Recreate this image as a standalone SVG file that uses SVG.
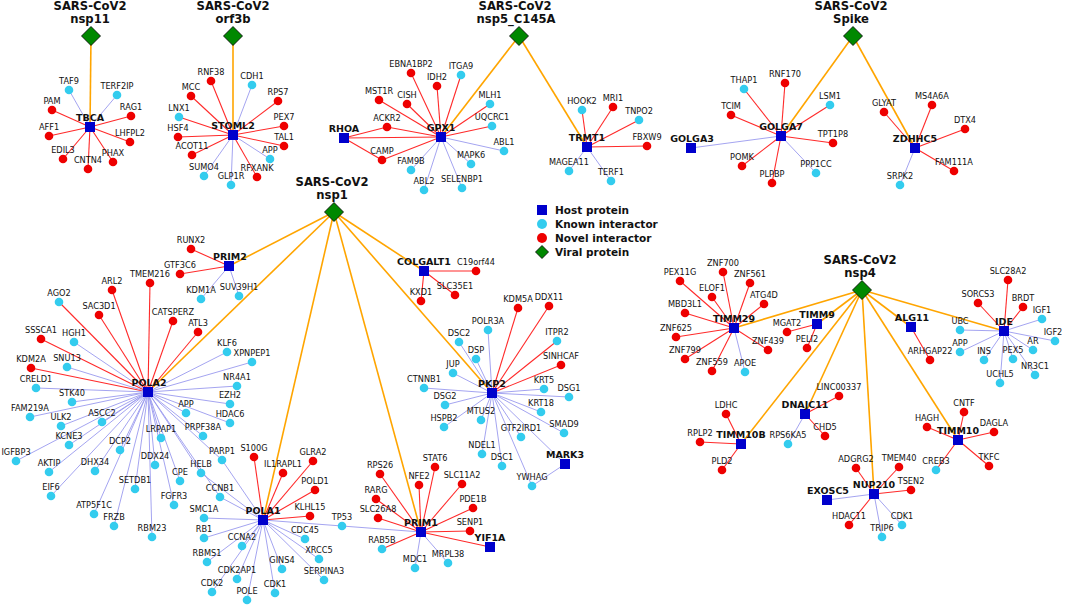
<svg xmlns="http://www.w3.org/2000/svg" width="1065" height="607" viewBox="0 0 1065 607">
<style>
.o{stroke:#ffa500;stroke-width:1.6}
.r{stroke:#ff2a2a;stroke-width:1.1}
.b{stroke:#9a9aee;stroke-width:0.9}
.h{fill:#0000cc}
.k{fill:#33ccee}
.n{fill:#ee0000}
.v{fill:#008800;stroke:#000;stroke-width:0.8}
text{font-family:"DejaVu Sans",Verdana,sans-serif;text-anchor:middle;fill:#111}
.l{font-size:8.2px}
.hl{font-size:9.5px;font-weight:bold}
.t{font-size:11.6px;font-weight:bold}
.lg{font-size:10.5px;font-weight:bold;text-anchor:start}
</style>
<rect width="1065" height="607" fill="#fff"/>
<g id="connectors">
<!-- TBCA -->
<line class="o" x1="91" y1="36" x2="90" y2="127"/>
<line class="b" x1="90" y1="127" x2="69" y2="90"/>
<line class="b" x1="90" y1="127" x2="117" y2="95"/>
<line class="r" x1="90" y1="127" x2="52" y2="110"/>
<line class="r" x1="90" y1="127" x2="131" y2="116"/>
<line class="r" x1="90" y1="127" x2="49" y2="136"/>
<line class="r" x1="90" y1="127" x2="130" y2="142"/>
<line class="r" x1="90" y1="127" x2="63" y2="159"/>
<line class="r" x1="90" y1="127" x2="88" y2="169"/>
<line class="r" x1="90" y1="127" x2="113" y2="162"/>
<!-- STOML2 -->
<line class="o" x1="233" y1="36" x2="233" y2="135"/>
<line class="r" x1="233" y1="135" x2="211" y2="81"/>
<line class="r" x1="233" y1="135" x2="191" y2="96"/>
<line class="r" x1="233" y1="135" x2="179" y2="117"/>
<line class="r" x1="233" y1="135" x2="178" y2="137"/>
<line class="r" x1="233" y1="135" x2="192" y2="155"/>
<line class="r" x1="233" y1="135" x2="257" y2="177"/>
<line class="r" x1="233" y1="135" x2="284" y2="146"/>
<line class="r" x1="233" y1="135" x2="284" y2="126"/>
<line class="r" x1="233" y1="135" x2="278" y2="101"/>
<line class="b" x1="233" y1="135" x2="252" y2="85"/>
<line class="b" x1="233" y1="135" x2="204" y2="176"/>
<line class="b" x1="233" y1="135" x2="231" y2="185"/>
<line class="b" x1="233" y1="135" x2="270" y2="159"/>
<!-- GPX1 -->
<line class="o" x1="519" y1="36" x2="441" y2="137"/>
<line class="r" x1="441" y1="137" x2="411" y2="73"/>
<line class="r" x1="441" y1="137" x2="437" y2="86"/>
<line class="r" x1="441" y1="137" x2="461" y2="75"/>
<line class="r" x1="441" y1="137" x2="379" y2="100"/>
<line class="r" x1="441" y1="137" x2="407" y2="104"/>
<line class="r" x1="441" y1="137" x2="490" y2="104"/>
<line class="r" x1="441" y1="137" x2="387" y2="127"/>
<line class="r" x1="441" y1="137" x2="492" y2="126"/>
<line class="r" x1="441" y1="137" x2="382" y2="160"/>
<line class="r" x1="441" y1="137" x2="344" y2="138"/>
<line class="b" x1="441" y1="137" x2="504" y2="151"/>
<line class="b" x1="441" y1="137" x2="411" y2="170"/>
<line class="b" x1="441" y1="137" x2="471" y2="164"/>
<line class="b" x1="441" y1="137" x2="424" y2="190"/>
<line class="b" x1="441" y1="137" x2="462" y2="188"/>
<line class="r" x1="344" y1="138" x2="387" y2="127"/>
<line class="r" x1="344" y1="138" x2="382" y2="160"/>
<!-- TRMT1 -->
<line class="o" x1="519" y1="36" x2="587" y2="147"/>
<line class="r" x1="587" y1="147" x2="582" y2="110"/>
<line class="r" x1="587" y1="147" x2="613" y2="107"/>
<line class="r" x1="587" y1="147" x2="639" y2="120"/>
<line class="r" x1="587" y1="147" x2="647" y2="146"/>
<line class="b" x1="587" y1="147" x2="569" y2="171"/>
<line class="b" x1="587" y1="147" x2="611" y2="181"/>
<!-- GOLGA7 -->
<line class="o" x1="853" y1="36" x2="781" y2="136"/>
<line class="r" x1="781" y1="136" x2="744" y2="89"/>
<line class="r" x1="781" y1="136" x2="785" y2="83"/>
<line class="r" x1="781" y1="136" x2="731" y2="115"/>
<line class="r" x1="781" y1="136" x2="742" y2="166"/>
<line class="r" x1="781" y1="136" x2="772" y2="183"/>
<line class="r" x1="781" y1="136" x2="830" y2="105"/>
<line class="r" x1="781" y1="136" x2="833" y2="143"/>
<line class="b" x1="781" y1="136" x2="816" y2="173"/>
<line class="b" x1="781" y1="136" x2="691" y2="148"/>
<!-- ZDHHC5 -->
<line class="o" x1="853" y1="36" x2="915" y2="148"/>
<line class="r" x1="915" y1="148" x2="884" y2="112"/>
<line class="r" x1="915" y1="148" x2="932" y2="105"/>
<line class="r" x1="915" y1="148" x2="965" y2="129"/>
<line class="r" x1="915" y1="148" x2="954" y2="171"/>
<line class="b" x1="915" y1="148" x2="900" y2="185"/>
<!-- PRIM2 -->
<line class="o" x1="334" y1="212" x2="229" y2="266"/>
<line class="r" x1="229" y1="266" x2="191" y2="249"/>
<line class="r" x1="229" y1="266" x2="180" y2="274"/>
<line class="b" x1="229" y1="266" x2="201" y2="299"/>
<line class="b" x1="229" y1="266" x2="239" y2="296"/>
<!-- POLA2 -->
<line class="o" x1="334" y1="212" x2="148" y2="392"/>
<line class="r" x1="148" y1="392" x2="59" y2="302"/>
<line class="r" x1="148" y1="392" x2="112" y2="290"/>
<line class="r" x1="148" y1="392" x2="150" y2="283"/>
<line class="r" x1="148" y1="392" x2="99" y2="315"/>
<line class="r" x1="148" y1="392" x2="173" y2="321"/>
<line class="r" x1="148" y1="392" x2="198" y2="332"/>
<line class="r" x1="148" y1="392" x2="41" y2="339"/>
<line class="r" x1="148" y1="392" x2="31" y2="368"/>
<line class="b" x1="148" y1="392" x2="74" y2="342"/>
<line class="b" x1="148" y1="392" x2="67" y2="367"/>
<line class="b" x1="148" y1="392" x2="36" y2="388"/>
<line class="b" x1="148" y1="392" x2="227" y2="352"/>
<line class="b" x1="148" y1="392" x2="252" y2="362"/>
<line class="b" x1="148" y1="392" x2="237" y2="386"/>
<line class="b" x1="148" y1="392" x2="72" y2="402"/>
<line class="b" x1="148" y1="392" x2="230" y2="404"/>
<line class="b" x1="148" y1="392" x2="186" y2="413"/>
<line class="b" x1="148" y1="392" x2="230" y2="423"/>
<line class="b" x1="148" y1="392" x2="30" y2="417"/>
<line class="b" x1="148" y1="392" x2="61" y2="426"/>
<line class="b" x1="148" y1="392" x2="102" y2="422"/>
<line class="b" x1="148" y1="392" x2="69" y2="445"/>
<line class="b" x1="148" y1="392" x2="161" y2="438"/>
<line class="b" x1="148" y1="392" x2="203" y2="436"/>
<line class="b" x1="148" y1="392" x2="16" y2="461"/>
<line class="b" x1="148" y1="392" x2="120" y2="450"/>
<line class="b" x1="148" y1="392" x2="222" y2="460"/>
<line class="b" x1="148" y1="392" x2="49" y2="472"/>
<line class="b" x1="148" y1="392" x2="95" y2="471"/>
<line class="b" x1="148" y1="392" x2="155" y2="465"/>
<line class="b" x1="148" y1="392" x2="201" y2="473"/>
<line class="b" x1="148" y1="392" x2="180" y2="481"/>
<line class="b" x1="148" y1="392" x2="51" y2="496"/>
<line class="b" x1="148" y1="392" x2="135" y2="489"/>
<line class="b" x1="148" y1="392" x2="220" y2="497"/>
<line class="b" x1="148" y1="392" x2="94" y2="514"/>
<line class="b" x1="148" y1="392" x2="174" y2="505"/>
<line class="b" x1="148" y1="392" x2="114" y2="526"/>
<line class="b" x1="148" y1="392" x2="152" y2="537"/>
<!-- POLA1 -->
<line class="o" x1="334" y1="212" x2="263" y2="520"/>
<line class="r" x1="263" y1="520" x2="254" y2="457"/>
<line class="r" x1="263" y1="520" x2="283" y2="473"/>
<line class="r" x1="263" y1="520" x2="313" y2="461"/>
<line class="r" x1="263" y1="520" x2="315" y2="490"/>
<line class="r" x1="263" y1="520" x2="310" y2="516"/>
<line class="b" x1="263" y1="520" x2="342" y2="526"/>
<line class="b" x1="263" y1="520" x2="305" y2="539"/>
<line class="b" x1="263" y1="520" x2="319" y2="559"/>
<line class="b" x1="263" y1="520" x2="282" y2="569"/>
<line class="b" x1="263" y1="520" x2="324" y2="580"/>
<line class="b" x1="263" y1="520" x2="275" y2="593"/>
<line class="b" x1="263" y1="520" x2="204" y2="518"/>
<line class="b" x1="263" y1="520" x2="204" y2="538"/>
<line class="b" x1="263" y1="520" x2="242" y2="546"/>
<line class="b" x1="263" y1="520" x2="207" y2="562"/>
<line class="b" x1="263" y1="520" x2="237" y2="579"/>
<line class="b" x1="263" y1="520" x2="212" y2="592"/>
<line class="b" x1="263" y1="520" x2="247" y2="600"/>
<line class="b" x1="263" y1="520" x2="220" y2="497"/>
<line class="b" x1="263" y1="520" x2="201" y2="473"/>
<line class="b" x1="263" y1="520" x2="222" y2="460"/>
<!-- PRIM1 -->
<line class="o" x1="334" y1="212" x2="421" y2="532"/>
<line class="r" x1="421" y1="532" x2="380" y2="474"/>
<line class="r" x1="421" y1="532" x2="435" y2="467"/>
<line class="r" x1="421" y1="532" x2="419" y2="485"/>
<line class="r" x1="421" y1="532" x2="462" y2="484"/>
<line class="r" x1="421" y1="532" x2="376" y2="499"/>
<line class="r" x1="421" y1="532" x2="473" y2="508"/>
<line class="r" x1="421" y1="532" x2="378" y2="518"/>
<line class="r" x1="421" y1="532" x2="470" y2="531"/>
<line class="r" x1="421" y1="532" x2="382" y2="549"/>
<line class="r" x1="421" y1="532" x2="490" y2="547"/>
<line class="b" x1="421" y1="532" x2="415" y2="568"/>
<line class="b" x1="421" y1="532" x2="448" y2="563"/>
<line class="b" x1="421" y1="532" x2="342" y2="526"/>
<!-- COLGALT1 -->
<line class="o" x1="334" y1="212" x2="424" y2="271"/>
<line class="r" x1="424" y1="271" x2="476" y2="271"/>
<line class="r" x1="424" y1="271" x2="421" y2="301"/>
<line class="r" x1="424" y1="271" x2="455" y2="295"/>
<!-- PKP2 -->
<line class="o" x1="334" y1="212" x2="492" y2="393"/>
<line class="r" x1="492" y1="393" x2="518" y2="308"/>
<line class="r" x1="492" y1="393" x2="549" y2="306"/>
<line class="r" x1="492" y1="393" x2="557" y2="341"/>
<line class="r" x1="492" y1="393" x2="561" y2="365"/>
<line class="b" x1="492" y1="393" x2="488" y2="330"/>
<line class="b" x1="492" y1="393" x2="459" y2="342"/>
<line class="b" x1="492" y1="393" x2="476" y2="359"/>
<line class="b" x1="492" y1="393" x2="453" y2="373"/>
<line class="b" x1="492" y1="393" x2="424" y2="388"/>
<line class="b" x1="492" y1="393" x2="445" y2="405"/>
<line class="b" x1="492" y1="393" x2="544" y2="389"/>
<line class="b" x1="492" y1="393" x2="569" y2="397"/>
<line class="b" x1="492" y1="393" x2="541" y2="412"/>
<line class="b" x1="492" y1="393" x2="564" y2="433"/>
<line class="b" x1="492" y1="393" x2="532" y2="486"/>
<line class="b" x1="492" y1="393" x2="444" y2="427"/>
<line class="b" x1="492" y1="393" x2="481" y2="420"/>
<line class="b" x1="492" y1="393" x2="521" y2="437"/>
<line class="b" x1="492" y1="393" x2="482" y2="454"/>
<line class="b" x1="492" y1="393" x2="502" y2="466"/>
<line class="b" x1="492" y1="393" x2="565" y2="464"/>
<line class="b" x1="565" y1="464" x2="532" y2="486"/>
<!-- TIMM29 -->
<line class="o" x1="862" y1="290" x2="734" y2="328"/>
<line class="r" x1="734" y1="328" x2="680" y2="281"/>
<line class="r" x1="734" y1="328" x2="723" y2="272"/>
<line class="r" x1="734" y1="328" x2="750" y2="283"/>
<line class="r" x1="734" y1="328" x2="712" y2="297"/>
<line class="r" x1="734" y1="328" x2="764" y2="304"/>
<line class="r" x1="734" y1="328" x2="685" y2="313"/>
<line class="r" x1="734" y1="328" x2="676" y2="337"/>
<line class="r" x1="734" y1="328" x2="768" y2="350"/>
<line class="r" x1="734" y1="328" x2="685" y2="359"/>
<line class="r" x1="734" y1="328" x2="712" y2="371"/>
<line class="b" x1="734" y1="328" x2="745" y2="372"/>
<!-- TIMM9 -->
<line class="o" x1="862" y1="290" x2="817" y2="324"/>
<line class="r" x1="817" y1="324" x2="787" y2="332"/>
<line class="r" x1="817" y1="324" x2="807" y2="348"/>
<!-- ALG11 -->
<line class="o" x1="862" y1="290" x2="911" y2="327"/>
<line class="r" x1="911" y1="327" x2="930" y2="360"/>
<!-- IDE -->
<line class="o" x1="862" y1="290" x2="1004" y2="331"/>
<line class="r" x1="1004" y1="331" x2="1008" y2="280"/>
<line class="r" x1="1004" y1="331" x2="978" y2="303"/>
<line class="r" x1="1004" y1="331" x2="1023" y2="307"/>
<line class="b" x1="1004" y1="331" x2="1042" y2="319"/>
<line class="b" x1="1004" y1="331" x2="960" y2="330"/>
<line class="b" x1="1004" y1="331" x2="1055" y2="341"/>
<line class="b" x1="1004" y1="331" x2="1033" y2="350"/>
<line class="b" x1="1004" y1="331" x2="960" y2="352"/>
<line class="b" x1="1004" y1="331" x2="984" y2="360"/>
<line class="b" x1="1004" y1="331" x2="1013" y2="359"/>
<line class="b" x1="1004" y1="331" x2="1035" y2="375"/>
<line class="b" x1="1004" y1="331" x2="1000" y2="383"/>
<!-- DNAJC11 -->
<line class="o" x1="862" y1="290" x2="805" y2="414"/>
<line class="r" x1="805" y1="414" x2="839" y2="396"/>
<line class="r" x1="805" y1="414" x2="825" y2="436"/>
<line class="b" x1="805" y1="414" x2="788" y2="444"/>
<!-- TIMM10B -->
<line class="o" x1="862" y1="290" x2="741" y2="444"/>
<line class="r" x1="741" y1="444" x2="726" y2="414"/>
<line class="r" x1="741" y1="444" x2="700" y2="442"/>
<line class="r" x1="741" y1="444" x2="722" y2="470"/>
<!-- TIMM10 -->
<line class="o" x1="862" y1="290" x2="958" y2="440"/>
<line class="r" x1="958" y1="440" x2="964" y2="412"/>
<line class="r" x1="958" y1="440" x2="927" y2="427"/>
<line class="r" x1="958" y1="440" x2="994" y2="432"/>
<line class="r" x1="958" y1="440" x2="936" y2="470"/>
<line class="r" x1="958" y1="440" x2="989" y2="466"/>
<!-- NUP210 -->
<line class="o" x1="862" y1="290" x2="874" y2="494"/>
<line class="r" x1="874" y1="494" x2="856" y2="468"/>
<line class="r" x1="874" y1="494" x2="899" y2="467"/>
<line class="r" x1="874" y1="494" x2="911" y2="490"/>
<line class="r" x1="874" y1="494" x2="849" y2="525"/>
<line class="b" x1="874" y1="494" x2="827" y2="500"/>
<line class="b" x1="874" y1="494" x2="902" y2="525"/>
<line class="b" x1="874" y1="494" x2="882" y2="537"/>
</g>

<!-- viral proteins -->
<g id="v-nsp11"><polygon class="v" points="91,26.5 100.5,36 91,45.5 81.5,36"/><text class="t" x="90" y="10">SARS-CoV2</text><text class="t" x="90" y="23">nsp11</text></g>
<g id="v-orf3b"><polygon class="v" points="233,26.5 242.5,36 233,45.5 223.5,36"/><text class="t" x="233" y="10">SARS-CoV2</text><text class="t" x="233" y="23">orf3b</text></g>
<g id="v-nsp5"><polygon class="v" points="519,26.5 528.5,36 519,45.5 509.5,36"/><text class="t" x="515" y="10">SARS-CoV2</text><text class="t" x="516" y="23">nsp5_C145A</text></g>
<g id="v-spike"><polygon class="v" points="853,26.5 862.5,36 853,45.5 843.5,36"/><text class="t" x="851" y="10">SARS-CoV2</text><text class="t" x="851" y="23">Spike</text></g>
<g id="v-nsp1"><polygon class="v" points="334,202.5 343.5,212 334,221.5 324.5,212"/><text class="t" x="332" y="186">SARS-CoV2</text><text class="t" x="332" y="199">nsp1</text></g>
<g id="v-nsp4"><polygon class="v" points="862,280.5 871.5,290 862,299.5 852.5,290"/><text class="t" x="860" y="264">SARS-CoV2</text><text class="t" x="860" y="277">nsp4</text></g>

<!-- host proteins -->
<g id="h-TBCA"><rect class="h" x="85" y="122" width="10" height="10"/><text class="hl" x="90" y="121">TBCA</text></g>
<g id="h-STOML2"><rect class="h" x="228" y="130" width="10" height="10"/><text class="hl" x="233" y="129">STOML2</text></g>
<g id="h-GPX1"><rect class="h" x="436" y="132" width="10" height="10"/><text class="hl" x="441" y="131">GPX1</text></g>
<g id="h-RHOA"><rect class="h" x="339" y="133" width="10" height="10"/><text class="hl" x="344" y="132">RHOA</text></g>
<g id="h-TRMT1"><rect class="h" x="582" y="142" width="10" height="10"/><text class="hl" x="587" y="141">TRMT1</text></g>
<g id="h-GOLGA3"><rect class="h" x="686" y="143" width="10" height="10"/><text class="hl" x="692" y="142">GOLGA3</text></g>
<g id="h-GOLGA7"><rect class="h" x="776" y="131" width="10" height="10"/><text class="hl" x="781" y="130">GOLGA7</text></g>
<g id="h-ZDHHC5"><rect class="h" x="910" y="143" width="10" height="10"/><text class="hl" x="915" y="142">ZDHHC5</text></g>
<g id="h-PRIM2"><rect class="h" x="224" y="261" width="10" height="10"/><text class="hl" x="230" y="260">PRIM2</text></g>
<g id="h-POLA2"><rect class="h" x="143" y="387" width="10" height="10"/><text class="hl" x="149" y="386">POLA2</text></g>
<g id="h-POLA1"><rect class="h" x="258" y="515" width="10" height="10"/><text class="hl" x="263" y="514">POLA1</text></g>
<g id="h-PRIM1"><rect class="h" x="416" y="527" width="10" height="10"/><text class="hl" x="421" y="526">PRIM1</text></g>
<g id="h-YIF1A"><rect class="h" x="485" y="542" width="10" height="10"/><text class="hl" x="490" y="541">YIF1A</text></g>
<g id="h-COLGALT1"><rect class="h" x="419" y="266" width="10" height="10"/><text class="hl" x="424" y="265">COLGALT1</text></g>
<g id="h-PKP2"><rect class="h" x="487" y="388" width="10" height="10"/><text class="hl" x="492" y="387">PKP2</text></g>
<g id="h-MARK3"><rect class="h" x="560" y="459" width="10" height="10"/><text class="hl" x="565" y="458">MARK3</text></g>
<g id="h-TIMM29"><rect class="h" x="729" y="323" width="10" height="10"/><text class="hl" x="734" y="322">TIMM29</text></g>
<g id="h-TIMM9"><rect class="h" x="812" y="319" width="10" height="10"/><text class="hl" x="817" y="318">TIMM9</text></g>
<g id="h-ALG11"><rect class="h" x="906" y="322" width="10" height="10"/><text class="hl" x="912" y="321">ALG11</text></g>
<g id="h-IDE"><rect class="h" x="999" y="326" width="10" height="10"/><text class="hl" x="1004" y="325">IDE</text></g>
<g id="h-DNAJC11"><rect class="h" x="800" y="409" width="10" height="10"/><text class="hl" x="805" y="408">DNAJC11</text></g>
<g id="h-TIMM10B"><rect class="h" x="736" y="439" width="10" height="10"/><text class="hl" x="741" y="438">TIMM10B</text></g>
<g id="h-TIMM10"><rect class="h" x="953" y="435" width="10" height="10"/><text class="hl" x="958" y="434">TIMM10</text></g>
<g id="h-NUP210"><rect class="h" x="869" y="489" width="10" height="10"/><text class="hl" x="874" y="488">NUP210</text></g>
<g id="h-EXOSC5"><rect class="h" x="822" y="495" width="10" height="10"/><text class="hl" x="828" y="494">EXOSC5</text></g>

<!-- interactors -->
<g id="n-TAF9"><circle class="k" cx="69" cy="90" r="4.3"/><text class="l" x="69" y="84">TAF9</text></g>
<g id="n-TERF2IP"><circle class="k" cx="117" cy="95" r="4.3"/><text class="l" x="117" y="89">TERF2IP</text></g>
<g id="n-PAM"><circle class="n" cx="52" cy="110" r="4.3"/><text class="l" x="52" y="104">PAM</text></g>
<g id="n-RAG1"><circle class="n" cx="131" cy="116" r="4.3"/><text class="l" x="131" y="110">RAG1</text></g>
<g id="n-AFF1"><circle class="n" cx="49" cy="136" r="4.3"/><text class="l" x="49" y="130">AFF1</text></g>
<g id="n-LHFPL2"><circle class="n" cx="130" cy="142" r="4.3"/><text class="l" x="130" y="136">LHFPL2</text></g>
<g id="n-EDIL3"><circle class="n" cx="63" cy="159" r="4.3"/><text class="l" x="63" y="153">EDIL3</text></g>
<g id="n-CNTN4"><circle class="n" cx="88" cy="169" r="4.3"/><text class="l" x="88" y="163">CNTN4</text></g>
<g id="n-PHAX"><circle class="n" cx="113" cy="162" r="4.3"/><text class="l" x="113" y="156">PHAX</text></g>

<g id="n-RNF38"><circle class="n" cx="211" cy="81" r="4.3"/><text class="l" x="211" y="75">RNF38</text></g>
<g id="n-CDH1"><circle class="k" cx="252" cy="85" r="4.3"/><text class="l" x="252" y="79">CDH1</text></g>
<g id="n-MCC"><circle class="n" cx="191" cy="96" r="4.3"/><text class="l" x="191" y="90">MCC</text></g>
<g id="n-LNX1"><circle class="k" cx="179" cy="117" r="4.3"/><text class="l" x="179" y="111">LNX1</text></g>
<g id="n-HSF4"><circle class="n" cx="178" cy="137" r="4.3"/><text class="l" x="178" y="131">HSF4</text></g>
<g id="n-ACOT11"><circle class="n" cx="192" cy="155" r="4.3"/><text class="l" x="192" y="149">ACOT11</text></g>
<g id="n-SUMO4"><circle class="k" cx="204" cy="176" r="4.3"/><text class="l" x="204" y="170">SUMO4</text></g>
<g id="n-GLP1R"><circle class="k" cx="231" cy="185" r="4.3"/><text class="l" x="231" y="179">GLP1R</text></g>
<g id="n-RFXANK"><circle class="n" cx="257" cy="177" r="4.3"/><text class="l" x="257" y="171">RFXANK</text></g>
<g id="n-APP-1"><circle class="k" cx="270" cy="159" r="4.3"/><text class="l" x="270" y="153">APP</text></g>
<g id="n-TAL1"><circle class="n" cx="284" cy="146" r="4.3"/><text class="l" x="284" y="140">TAL1</text></g>
<g id="n-PEX7"><circle class="n" cx="284" cy="126" r="4.3"/><text class="l" x="284" y="120">PEX7</text></g>
<g id="n-RPS7"><circle class="n" cx="278" cy="101" r="4.3"/><text class="l" x="278" y="95">RPS7</text></g>

<g id="n-EBNA1BP2"><circle class="n" cx="411" cy="73" r="4.3"/><text class="l" x="411" y="67">EBNA1BP2</text></g>
<g id="n-IDH2"><circle class="n" cx="437" cy="86" r="4.3"/><text class="l" x="437" y="80">IDH2</text></g>
<g id="n-ITGA9"><circle class="k" cx="461" cy="75" r="4.3"/><text class="l" x="461" y="69">ITGA9</text></g>
<g id="n-MST1R"><circle class="n" cx="379" cy="100" r="4.3"/><text class="l" x="379" y="94">MST1R</text></g>
<g id="n-CISH"><circle class="n" cx="407" cy="104" r="4.3"/><text class="l" x="407" y="98">CISH</text></g>
<g id="n-MLH1"><circle class="k" cx="490" cy="104" r="4.3"/><text class="l" x="490" y="98">MLH1</text></g>
<g id="n-ACKR2"><circle class="n" cx="387" cy="127" r="4.3"/><text class="l" x="387" y="121">ACKR2</text></g>
<g id="n-UQCRC1"><circle class="k" cx="492" cy="126" r="4.3"/><text class="l" x="492" y="120">UQCRC1</text></g>
<g id="n-ABL1"><circle class="k" cx="504" cy="151" r="4.3"/><text class="l" x="504" y="145">ABL1</text></g>
<g id="n-CAMP"><circle class="n" cx="382" cy="160" r="4.3"/><text class="l" x="382" y="154">CAMP</text></g>
<g id="n-FAM9B"><circle class="k" cx="411" cy="170" r="4.3"/><text class="l" x="411" y="164">FAM9B</text></g>
<g id="n-MAPK6"><circle class="k" cx="471" cy="164" r="4.3"/><text class="l" x="471" y="158">MAPK6</text></g>
<g id="n-ABL2"><circle class="k" cx="424" cy="190" r="4.3"/><text class="l" x="424" y="184">ABL2</text></g>
<g id="n-SELENBP1"><circle class="k" cx="462" cy="188" r="4.3"/><text class="l" x="462" y="182">SELENBP1</text></g>

<g id="n-HOOK2"><circle class="k" cx="582" cy="110" r="4.3"/><text class="l" x="582" y="104">HOOK2</text></g>
<g id="n-MRI1"><circle class="n" cx="613" cy="107" r="4.3"/><text class="l" x="613" y="101">MRI1</text></g>
<g id="n-TNPO2"><circle class="k" cx="639" cy="120" r="4.3"/><text class="l" x="639" y="114">TNPO2</text></g>
<g id="n-FBXW9"><circle class="n" cx="647" cy="146" r="4.3"/><text class="l" x="647" y="140">FBXW9</text></g>
<g id="n-MAGEA11"><circle class="k" cx="569" cy="171" r="4.3"/><text class="l" x="569" y="165">MAGEA11</text></g>
<g id="n-TERF1"><circle class="k" cx="611" cy="181" r="4.3"/><text class="l" x="611" y="175">TERF1</text></g>

<g id="n-THAP1"><circle class="k" cx="744" cy="89" r="4.3"/><text class="l" x="744" y="83">THAP1</text></g>
<g id="n-RNF170"><circle class="n" cx="785" cy="83" r="4.3"/><text class="l" x="785" y="77">RNF170</text></g>
<g id="n-TCIM"><circle class="n" cx="731" cy="115" r="4.3"/><text class="l" x="731" y="109">TCIM</text></g>
<g id="n-POMK"><circle class="n" cx="742" cy="166" r="4.3"/><text class="l" x="742" y="160">POMK</text></g>
<g id="n-PLPBP"><circle class="n" cx="772" cy="183" r="4.3"/><text class="l" x="772" y="177">PLPBP</text></g>
<g id="n-LSM1"><circle class="k" cx="830" cy="105" r="4.3"/><text class="l" x="830" y="99">LSM1</text></g>
<g id="n-TPT1P8"><circle class="n" cx="833" cy="143" r="4.3"/><text class="l" x="833" y="137">TPT1P8</text></g>
<g id="n-PPP1CC"><circle class="k" cx="816" cy="173" r="4.3"/><text class="l" x="816" y="167">PPP1CC</text></g>

<g id="n-GLYAT"><circle class="n" cx="884" cy="112" r="4.3"/><text class="l" x="884" y="106">GLYAT</text></g>
<g id="n-MS4A6A"><circle class="n" cx="932" cy="105" r="4.3"/><text class="l" x="932" y="99">MS4A6A</text></g>
<g id="n-DTX4"><circle class="n" cx="965" cy="129" r="4.3"/><text class="l" x="965" y="123">DTX4</text></g>
<g id="n-FAM111A"><circle class="n" cx="954" cy="171" r="4.3"/><text class="l" x="954" y="165">FAM111A</text></g>
<g id="n-SRPK2"><circle class="k" cx="900" cy="185" r="4.3"/><text class="l" x="900" y="179">SRPK2</text></g>

<g id="n-RUNX2"><circle class="n" cx="191" cy="249" r="4.3"/><text class="l" x="191" y="243">RUNX2</text></g>
<g id="n-GTF3C6"><circle class="n" cx="180" cy="274" r="4.3"/><text class="l" x="180" y="268">GTF3C6</text></g>
<g id="n-KDM1A"><circle class="k" cx="201" cy="299" r="4.3"/><text class="l" x="201" y="293">KDM1A</text></g>
<g id="n-SUV39H1"><circle class="k" cx="239" cy="296" r="4.3"/><text class="l" x="239" y="290">SUV39H1</text></g>

<g id="n-AGO2"><circle class="k" cx="59" cy="302" r="4.3"/><text class="l" x="59" y="296">AGO2</text></g>
<g id="n-ARL2"><circle class="n" cx="112" cy="290" r="4.3"/><text class="l" x="112" y="284">ARL2</text></g>
<g id="n-TMEM216"><circle class="n" cx="150" cy="283" r="4.3"/><text class="l" x="150" y="277">TMEM216</text></g>
<g id="n-SAC3D1"><circle class="n" cx="99" cy="315" r="4.3"/><text class="l" x="99" y="309">SAC3D1</text></g>
<g id="n-CATSPERZ"><circle class="n" cx="173" cy="321" r="4.3"/><text class="l" x="173" y="315">CATSPERZ</text></g>
<g id="n-ATL3"><circle class="n" cx="198" cy="332" r="4.3"/><text class="l" x="198" y="326">ATL3</text></g>
<g id="n-SSSCA1"><circle class="n" cx="41" cy="339" r="4.3"/><text class="l" x="41" y="333">SSSCA1</text></g>
<g id="n-HGH1"><circle class="k" cx="74" cy="342" r="4.3"/><text class="l" x="74" y="336">HGH1</text></g>
<g id="n-KDM2A"><circle class="n" cx="31" cy="368" r="4.3"/><text class="l" x="31" y="362">KDM2A</text></g>
<g id="n-SNU13"><circle class="k" cx="67" cy="367" r="4.3"/><text class="l" x="67" y="361">SNU13</text></g>
<g id="n-CRELD1"><circle class="k" cx="36" cy="388" r="4.3"/><text class="l" x="36" y="382">CRELD1</text></g>
<g id="n-KLF6"><circle class="k" cx="227" cy="352" r="4.3"/><text class="l" x="227" y="346">KLF6</text></g>
<g id="n-XPNPEP1"><circle class="k" cx="252" cy="362" r="4.3"/><text class="l" x="252" y="356">XPNPEP1</text></g>
<g id="n-NR4A1"><circle class="k" cx="237" cy="386" r="4.3"/><text class="l" x="237" y="380">NR4A1</text></g>
<g id="n-STK40"><circle class="k" cx="72" cy="402" r="4.3"/><text class="l" x="72" y="396">STK40</text></g>
<g id="n-EZH2"><circle class="k" cx="230" cy="404" r="4.3"/><text class="l" x="230" y="398">EZH2</text></g>
<g id="n-APP-2"><circle class="k" cx="186" cy="413" r="4.3"/><text class="l" x="186" y="407">APP</text></g>
<g id="n-HDAC6"><circle class="k" cx="230" cy="423" r="4.3"/><text class="l" x="230" y="417">HDAC6</text></g>
<g id="n-FAM219A"><circle class="k" cx="30" cy="417" r="4.3"/><text class="l" x="30" y="411">FAM219A</text></g>
<g id="n-ULK2"><circle class="k" cx="61" cy="426" r="4.3"/><text class="l" x="61" y="420">ULK2</text></g>
<g id="n-ASCC2"><circle class="k" cx="102" cy="422" r="4.3"/><text class="l" x="102" y="416">ASCC2</text></g>
<g id="n-KCNE3"><circle class="k" cx="69" cy="445" r="4.3"/><text class="l" x="69" y="439">KCNE3</text></g>
<g id="n-LRPAP1"><circle class="k" cx="161" cy="438" r="4.3"/><text class="l" x="161" y="432">LRPAP1</text></g>
<g id="n-PRPF38A"><circle class="k" cx="203" cy="436" r="4.3"/><text class="l" x="203" y="430">PRPF38A</text></g>
<g id="n-IGFBP3"><circle class="k" cx="16" cy="461" r="4.3"/><text class="l" x="16" y="455">IGFBP3</text></g>
<g id="n-DCP2"><circle class="k" cx="120" cy="450" r="4.3"/><text class="l" x="120" y="444">DCP2</text></g>
<g id="n-PARP1"><circle class="k" cx="222" cy="460" r="4.3"/><text class="l" x="222" y="454">PARP1</text></g>
<g id="n-AKTIP"><circle class="k" cx="49" cy="472" r="4.3"/><text class="l" x="49" y="466">AKTIP</text></g>
<g id="n-DHX34"><circle class="k" cx="95" cy="471" r="4.3"/><text class="l" x="95" y="465">DHX34</text></g>
<g id="n-DDX24"><circle class="k" cx="155" cy="465" r="4.3"/><text class="l" x="155" y="459">DDX24</text></g>
<g id="n-HELB"><circle class="k" cx="201" cy="473" r="4.3"/><text class="l" x="201" y="467">HELB</text></g>
<g id="n-CPE"><circle class="k" cx="180" cy="481" r="4.3"/><text class="l" x="180" y="475">CPE</text></g>
<g id="n-EIF6"><circle class="k" cx="51" cy="496" r="4.3"/><text class="l" x="51" y="490">EIF6</text></g>
<g id="n-SETDB1"><circle class="k" cx="135" cy="489" r="4.3"/><text class="l" x="135" y="483">SETDB1</text></g>
<g id="n-CCNB1"><circle class="k" cx="220" cy="497" r="4.3"/><text class="l" x="220" y="491">CCNB1</text></g>
<g id="n-ATP5F1C"><circle class="k" cx="94" cy="514" r="4.3"/><text class="l" x="94" y="508">ATP5F1C</text></g>
<g id="n-FGFR3"><circle class="k" cx="174" cy="505" r="4.3"/><text class="l" x="174" y="499">FGFR3</text></g>
<g id="n-FRZB"><circle class="k" cx="114" cy="526" r="4.3"/><text class="l" x="114" y="520">FRZB</text></g>
<g id="n-RBM23"><circle class="k" cx="152" cy="537" r="4.3"/><text class="l" x="152" y="531">RBM23</text></g>

<g id="n-S100G"><circle class="n" cx="254" cy="457" r="4.3"/><text class="l" x="254" y="451">S100G</text></g>
<g id="n-IL1RAPL1"><circle class="n" cx="283" cy="473" r="4.3"/><text class="l" x="283" y="467">IL1RAPL1</text></g>
<g id="n-GLRA2"><circle class="n" cx="313" cy="461" r="4.3"/><text class="l" x="313" y="455">GLRA2</text></g>
<g id="n-POLD1"><circle class="n" cx="315" cy="490" r="4.3"/><text class="l" x="315" y="484">POLD1</text></g>
<g id="n-KLHL15"><circle class="n" cx="310" cy="516" r="4.3"/><text class="l" x="310" y="510">KLHL15</text></g>
<g id="n-TP53"><circle class="k" cx="342" cy="526" r="4.3"/><text class="l" x="342" y="520">TP53</text></g>
<g id="n-CDC45"><circle class="k" cx="305" cy="539" r="4.3"/><text class="l" x="305" y="533">CDC45</text></g>
<g id="n-XRCC5"><circle class="k" cx="319" cy="559" r="4.3"/><text class="l" x="319" y="553">XRCC5</text></g>
<g id="n-GINS4"><circle class="k" cx="282" cy="569" r="4.3"/><text class="l" x="282" y="563">GINS4</text></g>
<g id="n-SERPINA3"><circle class="k" cx="324" cy="580" r="4.3"/><text class="l" x="324" y="574">SERPINA3</text></g>
<g id="n-CDK1-1"><circle class="k" cx="275" cy="593" r="4.3"/><text class="l" x="275" y="587">CDK1</text></g>
<g id="n-SMC1A"><circle class="k" cx="204" cy="518" r="4.3"/><text class="l" x="204" y="512">SMC1A</text></g>
<g id="n-RB1"><circle class="k" cx="204" cy="538" r="4.3"/><text class="l" x="204" y="532">RB1</text></g>
<g id="n-CCNA2"><circle class="k" cx="242" cy="546" r="4.3"/><text class="l" x="242" y="540">CCNA2</text></g>
<g id="n-RBMS1"><circle class="k" cx="207" cy="562" r="4.3"/><text class="l" x="207" y="556">RBMS1</text></g>
<g id="n-CDK2AP1"><circle class="k" cx="237" cy="579" r="4.3"/><text class="l" x="237" y="573">CDK2AP1</text></g>
<g id="n-CDK2"><circle class="k" cx="212" cy="592" r="4.3"/><text class="l" x="212" y="586">CDK2</text></g>
<g id="n-POLE"><circle class="k" cx="247" cy="600" r="4.3"/><text class="l" x="247" y="594">POLE</text></g>

<g id="n-RPS26"><circle class="n" cx="380" cy="474" r="4.3"/><text class="l" x="380" y="468">RPS26</text></g>
<g id="n-STAT6"><circle class="n" cx="435" cy="467" r="4.3"/><text class="l" x="435" y="461">STAT6</text></g>
<g id="n-NFE2"><circle class="n" cx="419" cy="485" r="4.3"/><text class="l" x="419" y="479">NFE2</text></g>
<g id="n-SLC11A2"><circle class="n" cx="462" cy="484" r="4.3"/><text class="l" x="462" y="478">SLC11A2</text></g>
<g id="n-RARG"><circle class="n" cx="376" cy="499" r="4.3"/><text class="l" x="376" y="493">RARG</text></g>
<g id="n-PDE1B"><circle class="n" cx="473" cy="508" r="4.3"/><text class="l" x="473" y="502">PDE1B</text></g>
<g id="n-SLC26A8"><circle class="n" cx="378" cy="518" r="4.3"/><text class="l" x="378" y="512">SLC26A8</text></g>
<g id="n-SENP1"><circle class="n" cx="470" cy="531" r="4.3"/><text class="l" x="470" y="525">SENP1</text></g>
<g id="n-RAB5B"><circle class="k" cx="382" cy="549" r="4.3"/><text class="l" x="382" y="543">RAB5B</text></g>
<g id="n-MDC1"><circle class="k" cx="415" cy="568" r="4.3"/><text class="l" x="415" y="562">MDC1</text></g>
<g id="n-MRPL38"><circle class="k" cx="448" cy="563" r="4.3"/><text class="l" x="448" y="557">MRPL38</text></g>

<g id="n-C19orf44"><circle class="n" cx="476" cy="271" r="4.3"/><text class="l" x="476" y="265">C19orf44</text></g>
<g id="n-KXD1"><circle class="n" cx="421" cy="301" r="4.3"/><text class="l" x="421" y="295">KXD1</text></g>
<g id="n-SLC35E1"><circle class="n" cx="455" cy="295" r="4.3"/><text class="l" x="455" y="289">SLC35E1</text></g>

<g id="n-KDM5A"><circle class="n" cx="518" cy="308" r="4.3"/><text class="l" x="518" y="302">KDM5A</text></g>
<g id="n-POLR3A"><circle class="k" cx="488" cy="330" r="4.3"/><text class="l" x="488" y="324">POLR3A</text></g>
<g id="n-DSC2"><circle class="k" cx="459" cy="342" r="4.3"/><text class="l" x="459" y="336">DSC2</text></g>
<g id="n-DSP"><circle class="k" cx="476" cy="359" r="4.3"/><text class="l" x="476" y="353">DSP</text></g>
<g id="n-JUP"><circle class="k" cx="453" cy="373" r="4.3"/><text class="l" x="453" y="367">JUP</text></g>
<g id="n-CTNNB1"><circle class="k" cx="424" cy="388" r="4.3"/><text class="l" x="424" y="382">CTNNB1</text></g>
<g id="n-DSG2"><circle class="k" cx="445" cy="405" r="4.3"/><text class="l" x="445" y="399">DSG2</text></g>
<g id="n-DDX11"><circle class="n" cx="549" cy="306" r="4.3"/><text class="l" x="549" y="300">DDX11</text></g>
<g id="n-ITPR2"><circle class="k" cx="557" cy="341" r="4.3"/><text class="l" x="557" y="335">ITPR2</text></g>
<g id="n-SINHCAF"><circle class="n" cx="561" cy="365" r="4.3"/><text class="l" x="561" y="359">SINHCAF</text></g>
<g id="n-KRT5"><circle class="k" cx="544" cy="389" r="4.3"/><text class="l" x="544" y="383">KRT5</text></g>
<g id="n-DSG1"><circle class="k" cx="569" cy="397" r="4.3"/><text class="l" x="569" y="391">DSG1</text></g>
<g id="n-KRT18"><circle class="k" cx="541" cy="412" r="4.3"/><text class="l" x="541" y="406">KRT18</text></g>
<g id="n-SMAD9"><circle class="k" cx="564" cy="433" r="4.3"/><text class="l" x="564" y="427">SMAD9</text></g>
<g id="n-YWHAG"><circle class="k" cx="532" cy="486" r="4.3"/><text class="l" x="532" y="480">YWHAG</text></g>
<g id="n-HSPB2"><circle class="k" cx="444" cy="427" r="4.3"/><text class="l" x="444" y="421">HSPB2</text></g>
<g id="n-MTUS2"><circle class="k" cx="481" cy="420" r="4.3"/><text class="l" x="481" y="414">MTUS2</text></g>
<g id="n-GTF2IRD1"><circle class="k" cx="521" cy="437" r="4.3"/><text class="l" x="521" y="431">GTF2IRD1</text></g>
<g id="n-NDEL1"><circle class="k" cx="482" cy="454" r="4.3"/><text class="l" x="482" y="448">NDEL1</text></g>
<g id="n-DSC1"><circle class="k" cx="502" cy="466" r="4.3"/><text class="l" x="502" y="460">DSC1</text></g>

<g id="n-PEX11G"><circle class="n" cx="680" cy="281" r="4.3"/><text class="l" x="680" y="275">PEX11G</text></g>
<g id="n-ZNF700"><circle class="n" cx="723" cy="272" r="4.3"/><text class="l" x="723" y="266">ZNF700</text></g>
<g id="n-ZNF561"><circle class="n" cx="750" cy="283" r="4.3"/><text class="l" x="750" y="277">ZNF561</text></g>
<g id="n-ELOF1"><circle class="n" cx="712" cy="297" r="4.3"/><text class="l" x="712" y="291">ELOF1</text></g>
<g id="n-ATG4D"><circle class="n" cx="764" cy="304" r="4.3"/><text class="l" x="764" y="298">ATG4D</text></g>
<g id="n-MBD3L1"><circle class="n" cx="685" cy="313" r="4.3"/><text class="l" x="685" y="307">MBD3L1</text></g>
<g id="n-ZNF625"><circle class="n" cx="676" cy="337" r="4.3"/><text class="l" x="676" y="331">ZNF625</text></g>
<g id="n-ZNF439"><circle class="n" cx="768" cy="350" r="4.3"/><text class="l" x="768" y="344">ZNF439</text></g>
<g id="n-ZNF799"><circle class="n" cx="685" cy="359" r="4.3"/><text class="l" x="685" y="353">ZNF799</text></g>
<g id="n-ZNF559"><circle class="n" cx="712" cy="371" r="4.3"/><text class="l" x="712" y="365">ZNF559</text></g>
<g id="n-APOE"><circle class="k" cx="745" cy="372" r="4.3"/><text class="l" x="745" y="366">APOE</text></g>
<g id="n-MGAT2"><circle class="n" cx="787" cy="332" r="4.3"/><text class="l" x="787" y="326">MGAT2</text></g>
<g id="n-PELI2"><circle class="n" cx="807" cy="348" r="4.3"/><text class="l" x="807" y="342">PELI2</text></g>
<g id="n-ARHGAP22"><circle class="n" cx="930" cy="360" r="4.3"/><text class="l" x="930" y="354">ARHGAP22</text></g>

<g id="n-SLC28A2"><circle class="n" cx="1008" cy="280" r="4.3"/><text class="l" x="1008" y="274">SLC28A2</text></g>
<g id="n-SORCS3"><circle class="n" cx="978" cy="303" r="4.3"/><text class="l" x="978" y="297">SORCS3</text></g>
<g id="n-BRDT"><circle class="n" cx="1023" cy="307" r="4.3"/><text class="l" x="1023" y="301">BRDT</text></g>
<g id="n-IGF1"><circle class="k" cx="1042" cy="319" r="4.3"/><text class="l" x="1042" y="313">IGF1</text></g>
<g id="n-UBC"><circle class="k" cx="960" cy="330" r="4.3"/><text class="l" x="960" y="324">UBC</text></g>
<g id="n-IGF2"><circle class="k" cx="1055" cy="341" r="4.3"/><text class="l" x="1053" y="335">IGF2</text></g>
<g id="n-AR"><circle class="k" cx="1033" cy="350" r="4.3"/><text class="l" x="1033" y="344">AR</text></g>
<g id="n-APP-3"><circle class="k" cx="960" cy="352" r="4.3"/><text class="l" x="960" y="346">APP</text></g>
<g id="n-INS"><circle class="k" cx="984" cy="360" r="4.3"/><text class="l" x="984" y="354">INS</text></g>
<g id="n-PEX5"><circle class="k" cx="1013" cy="359" r="4.3"/><text class="l" x="1013" y="353">PEX5</text></g>
<g id="n-NR3C1"><circle class="k" cx="1035" cy="375" r="4.3"/><text class="l" x="1035" y="369">NR3C1</text></g>
<g id="n-UCHL5"><circle class="k" cx="1000" cy="383" r="4.3"/><text class="l" x="1000" y="377">UCHL5</text></g>

<g id="n-LINC00337"><circle class="n" cx="839" cy="396" r="4.3"/><text class="l" x="839" y="390">LINC00337</text></g>
<g id="n-CHD5"><circle class="n" cx="825" cy="436" r="4.3"/><text class="l" x="825" y="430">CHD5</text></g>
<g id="n-RPS6KA5"><circle class="k" cx="788" cy="444" r="4.3"/><text class="l" x="788" y="438">RPS6KA5</text></g>
<g id="n-LDHC"><circle class="n" cx="726" cy="414" r="4.3"/><text class="l" x="726" y="408">LDHC</text></g>
<g id="n-RPLP2"><circle class="n" cx="700" cy="442" r="4.3"/><text class="l" x="700" y="436">RPLP2</text></g>
<g id="n-PLD2"><circle class="n" cx="722" cy="470" r="4.3"/><text class="l" x="722" y="464">PLD2</text></g>
<g id="n-CNTF"><circle class="n" cx="964" cy="412" r="4.3"/><text class="l" x="964" y="406">CNTF</text></g>
<g id="n-HAGH"><circle class="n" cx="927" cy="427" r="4.3"/><text class="l" x="927" y="421">HAGH</text></g>
<g id="n-DAGLA"><circle class="n" cx="994" cy="432" r="4.3"/><text class="l" x="994" y="426">DAGLA</text></g>
<g id="n-CREB3"><circle class="k" cx="936" cy="470" r="4.3"/><text class="l" x="936" y="464">CREB3</text></g>
<g id="n-TKFC"><circle class="n" cx="989" cy="466" r="4.3"/><text class="l" x="989" y="460">TKFC</text></g>
<g id="n-ADGRG2"><circle class="n" cx="856" cy="468" r="4.3"/><text class="l" x="856" y="462">ADGRG2</text></g>
<g id="n-TMEM40"><circle class="n" cx="899" cy="467" r="4.3"/><text class="l" x="899" y="461">TMEM40</text></g>
<g id="n-TSEN2"><circle class="n" cx="911" cy="490" r="4.3"/><text class="l" x="911" y="484">TSEN2</text></g>
<g id="n-HDAC11"><circle class="n" cx="849" cy="525" r="4.3"/><text class="l" x="849" y="519">HDAC11</text></g>
<g id="n-CDK1-2"><circle class="k" cx="902" cy="525" r="4.3"/><text class="l" x="902" y="519">CDK1</text></g>
<g id="n-TRIP6"><circle class="k" cx="882" cy="537" r="4.3"/><text class="l" x="882" y="531">TRIP6</text></g>

<!-- legend -->
<g id="legend">
<rect class="h" x="537" y="205" width="10" height="10"/><text class="lg" x="555" y="214">Host protein</text>
<circle class="k" cx="542" cy="224" r="5"/><text class="lg" x="555" y="228">Known interactor</text>
<circle class="n" cx="542" cy="238" r="5"/><text class="lg" x="555" y="242">Novel interactor</text>
<polygon class="v" points="542,245.5 548.5,252 542,258.5 535.5,252"/><text class="lg" x="555" y="256">Viral protein</text>
</g>
</svg>
